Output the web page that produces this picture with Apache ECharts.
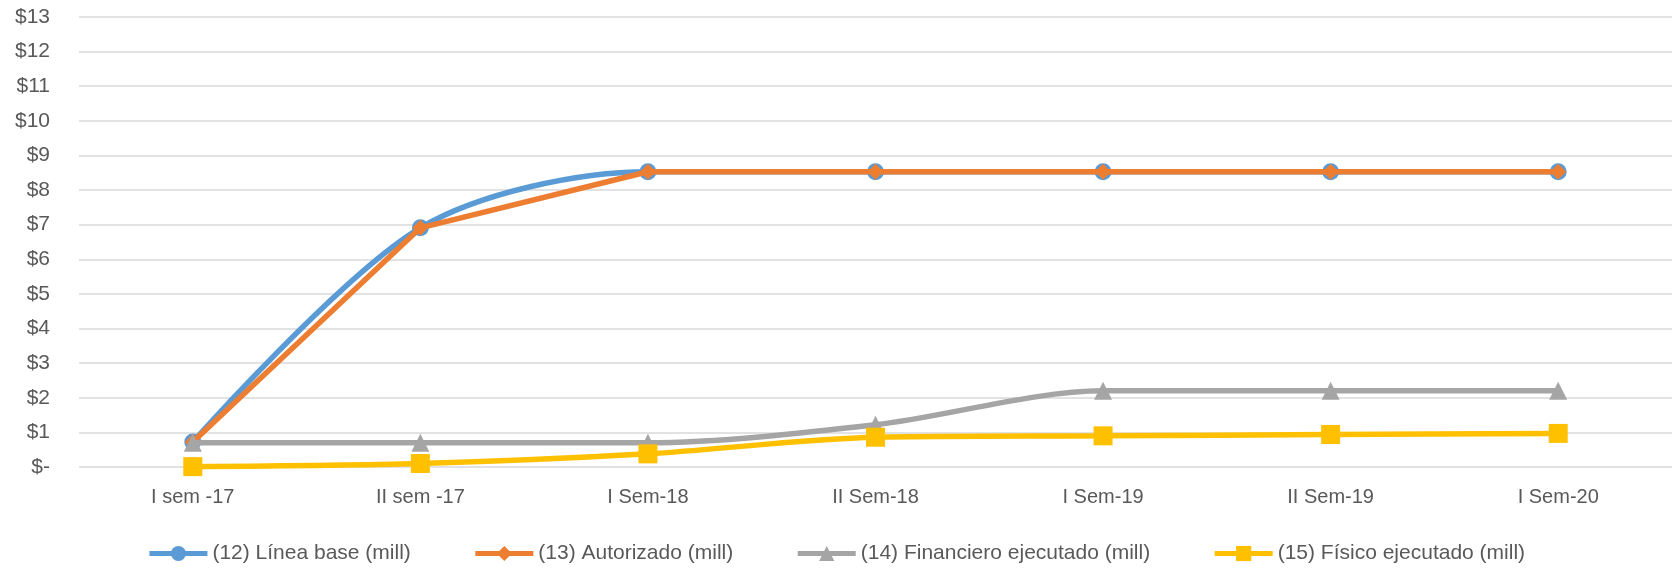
<!DOCTYPE html>
<html>
<head>
<meta charset="utf-8">
<script src="https://cdn.jsdelivr.net/npm/echarts@6/dist/echarts.min.js"></script>
<style>
html,body{margin:0;padding:0;background:#fff;}
#chart{width:1672px;height:571px;}
</style>
</head>
<body>
<div id="chart"></div>
<script>
const categories = ["I sem -17", "II sem -17", "I Sem-18", "II Sem-18", "I Sem-19", "II Sem-19", "I Sem-20"];
const lineaBase = [0.72, 6.91, 8.53, 8.53, 8.53, 8.53, 8.53];
const autorizado = [0.72, 6.91, 8.53, 8.53, 8.53, 8.53, 8.53];
const financiero = [0.70, 0.70, 0.70, 1.22, 2.20, 2.20, 2.20];
const fisico = [0.01, 0.10, 0.38, 0.86, 0.90, 0.94, 0.97];
const seriesNames = ["(12) Línea base (mill)", "(13) Autorizado (mill)", "(14) Financiero ejecutado (mill)", "(15) Físico ejecutado (mill)"];
const colors = ['#5B9BD5', '#ED7D31', '#A5A5A5', '#FFC000'];

const FONT = "Liberation Sans";
const chart = echarts.init(document.getElementById('chart'), null, {renderer: 'canvas'});
chart.setOption({
  animation: false,
  textStyle: {fontFamily: FONT},
  grid: {left: 79, right: 0, top: 17, bottom: 104, containLabel: false},
  xAxis: {
    type: 'category',
    data: categories,
    boundaryGap: true,
    axisLine: {show: false},
    axisTick: {show: false},
    axisLabel: {color: '#595959', fontSize: 20, margin: 20, fontFamily: FONT}
  },
  yAxis: {
    type: 'value',
    min: 0, max: 13, interval: 1,
    axisLine: {show: false},
    axisTick: {show: false},
    splitLine: {lineStyle: {color: '#d9d9d9', width: 1.5}},
    axisLabel: {
      color: '#595959', fontSize: 21, margin: 29, fontFamily: FONT,
      formatter: v => v === 0 ? '$-' : '$' + v
    }
  },
  legend: {
    bottom: 2,
    left: 'center',
    itemWidth: 58,
    itemHeight: 19,
    itemGap: 62,
    textStyle: {color: '#595959', fontSize: 21, fontFamily: FONT},
    data: seriesNames.map((n, i) => ({name: n, lineStyle: {width: 5, color: colors[i]}}))
  },
  series: [
    {
      name: seriesNames[0], type: 'line', data: lineaBase, smooth: 0.3,
      symbol: 'circle', symbolSize: 17,
      lineStyle: {color: colors[0], width: 5.5},
      itemStyle: {color: colors[0]}, z: 2
    },
    {
      name: seriesNames[1], type: 'line', data: autorizado, smooth: false,
      symbol: 'diamond', symbolSize: 16,
      lineStyle: {color: colors[1], width: 5.5},
      itemStyle: {color: colors[1]}, z: 3
    },
    {
      name: seriesNames[2], type: 'line', data: financiero, smooth: 0.3,
      symbol: 'triangle', symbolSize: 18,
      lineStyle: {color: colors[2], width: 5.5},
      itemStyle: {color: colors[2]}, z: 4
    },
    {
      name: seriesNames[3], type: 'line', data: fisico, smooth: 0.3,
      symbol: 'rect', symbolSize: 19,
      lineStyle: {color: colors[3], width: 5.5},
      itemStyle: {color: colors[3]}, z: 5
    }
  ]
});
</script>
</body>
</html>
